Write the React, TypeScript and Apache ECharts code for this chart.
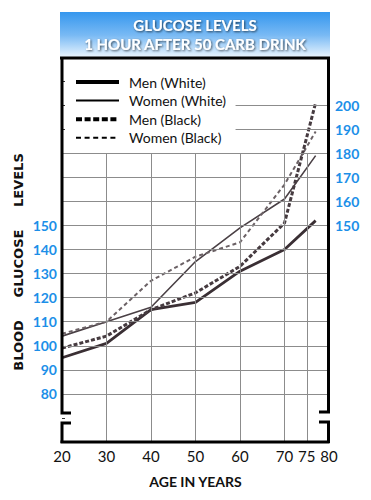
import React, { useEffect, useRef } from "react";
import * as echarts from "echarts";

// ---- data ----
const ages = [20, 30, 40, 50, 60, 70, 77];
const menWhite = [95, 101, 115, 118, 131, 140, 152];
const womenWhite = [104, 110, 116, 135, 149, 161, 179];
const menBlack = [99, 104, 115, 122, 133, 151, 201];
const womenBlack = [105, 110, 127, 137, 143, 167, 189];
const seriesNames = ["Men (White)", "Women (White)", "Men (Black)", "Women (Black)"];

const xTickLabels = [20, 30, 40, 50, 60, 70, 75, 80];
const leftTickLabels = [80, 90, 100, 110, 120, 130, 140, 150];
const rightTickLabels = [150, 160, 170, 180, 190, 200];
const xGridValues = [30, 40, 50, 60, 70, 75];
const yGridFull = [80, 90, 100, 110, 120, 130, 140, 150, 160, 170, 180];
const yGridPartial = [190, 200];

const titleText = "GLUCOSE LEVELS\n1 HOUR AFTER 50 CARB DRINK";
const xName = "AGE IN YEARS";
const yName = "BLOOD     GLUCOSE     LEVELS";

const FONT = "Lato, 'DejaVu Sans', sans-serif";
const BLUE = "#1c8fe8";

function toPairs(vals: number[]) {
  return ages.map((a, i) => [a, vals[i]]);
}

export default function App() {
  const ref = useRef<HTMLDivElement>(null);
  useEffect(() => {
    if (!ref.current) return;
    const chart = echarts.init(ref.current, null, { renderer: "svg" });

    const X_MIN = 20, X_MAX = 80, Y_MIN = 60, Y_MAX = 220;

    const gridLines: any[] = [];
    xGridValues.forEach((x) => {
      gridLines.push([{ coord: [x, Y_MIN] }, { coord: [x, 180] }]);
    });
    yGridFull.forEach((y) => {
      gridLines.push([{ coord: [X_MIN, y] }, { coord: [X_MAX, y] }]);
    });
    yGridPartial.forEach((y) => {
      gridLines.push([{ coord: [59, y] }, { coord: [X_MAX, y] }]);
    });

    const option: any = {
      animation: false,
      backgroundColor: "#ffffff",
      title: {
        text: titleText,
        left: 195,
        top: 15,
        textAlign: "center",
        padding: 0,
        textStyle: {
          color: "#ffffff",
          fontSize: 15,
          fontWeight: "bold",
          fontFamily: FONT,
          lineHeight: 19,
          textShadowColor: "rgba(0,0,0,0.65)",
          textShadowBlur: 2,
          textShadowOffsetX: 1,
          textShadowOffsetY: 1,
        },
        z: 10,
      },
      legend: {
        orient: "vertical",
        left: 74,
        top: 75,
        padding: 0,
        itemWidth: 43,
        itemHeight: 14,
        itemGap: 4.6,
        selectedMode: false,
        itemStyle: { opacity: 0, borderWidth: 0 },
        textStyle: {
          fontSize: 14,
          color: "#111",
          fontFamily: FONT,
          padding: [0, 0, 0, 5],
        },
        data: [
          { name: seriesNames[0], lineStyle: { color: "#000", width: 4, type: "solid" } },
          { name: seriesNames[1], lineStyle: { color: "#000", width: 2, type: "solid" } },
          { name: seriesNames[2], lineStyle: { color: "#000", width: 4, type: [6, 2.6] } },
          { name: seriesNames[3], lineStyle: { color: "#000", width: 2, type: [5, 3.6] } },
        ],
      },
      grid: { left: 62, right: 42, top: 57, bottom: 58 },
      xAxis: {
        type: "value",
        min: X_MIN,
        max: X_MAX,
        interval: 5,
        axisLine: { show: false },
        axisTick: { show: false },
        splitLine: { show: false },
        axisLabel: {
          margin: 6,
          color: "#111",
          fontSize: 15,
          fontFamily: FONT,
          formatter: (v: number) => (xTickLabels.indexOf(v) >= 0 ? String(v) : ""),
        },
        name: xName,
        nameLocation: "middle",
        nameGap: 32,
        nameTextStyle: { color: "#111", fontSize: 14, fontWeight: "bold", fontFamily: FONT },
      },
      yAxis: [
        {
          type: "value",
          min: Y_MIN,
          max: Y_MAX,
          interval: 10,
          position: "left",
          axisLine: { show: false },
          axisTick: { show: true, inside: true, length: 3, lineStyle: { color: "#333" } },
          splitLine: { show: false },
          axisLabel: {
            margin: 5,
            color: BLUE,
            fontSize: 14,
            fontWeight: "bold",
            fontFamily: FONT,
            formatter: (v: number) => (leftTickLabels.indexOf(v) >= 0 ? String(v) : ""),
          },
        },
        {
          type: "value",
          min: Y_MIN,
          max: Y_MAX,
          interval: 10,
          position: "right",
          axisLine: { show: false },
          axisTick: { show: false },
          splitLine: { show: false },
          axisLabel: {
            margin: 6,
            color: BLUE,
            fontSize: 14,
            fontWeight: "bold",
            fontFamily: FONT,
            formatter: (v: number) => (rightTickLabels.indexOf(v) >= 0 ? String(v) : ""),
          },
        },
      ],
      series: [
        {
          name: "grid",
          type: "line",
          data: [],
          silent: true,
          z: 1,
          markLine: {
            silent: true,
            symbol: ["none", "none"],
            label: { show: false },
            lineStyle: { color: "#8c8c8c", width: 1, type: "solid" },
            emphasis: { disabled: true },
            data: gridLines,
          },
        },
        {
          name: seriesNames[0],
          type: "line",
          data: toPairs(menWhite),
          symbol: "none",
          z: 3,
          lineStyle: { color: "#3a2f34", width: 2.8, type: "solid" },
          itemStyle: { color: "#3a2f34" },
        },
        {
          name: seriesNames[1],
          type: "line",
          data: toPairs(womenWhite),
          symbol: "none",
          z: 3,
          lineStyle: { color: "#4a4045", width: 1.6, type: "solid" },
          itemStyle: { color: "#4a4045" },
        },
        {
          name: seriesNames[2],
          type: "line",
          data: toPairs(menBlack),
          symbol: "none",
          z: 4,
          lineStyle: { color: "#463b40", width: 3, type: [4, 2] },
          itemStyle: { color: "#463b40" },
        },
        {
          name: seriesNames[3],
          type: "line",
          data: toPairs(womenBlack),
          symbol: "none",
          z: 3,
          lineStyle: { color: "#6b6165", width: 2, type: [4, 3] },
          itemStyle: { color: "#6b6165" },
        },
      ],
      graphic: [
        {
          type: "rect",
          z: 0,
          silent: true,
          shape: { x: 60, y: 12, width: 270, height: 46 },
          style: {
            fill: new echarts.graphic.LinearGradient(0, 0, 0, 1, [
              { offset: 0, color: "#3597ee" },
              { offset: 0.5, color: "#78b9f4" },
              { offset: 1, color: "#eef7fe" },
            ]),
          },
        },
        {
          type: "text",
          silent: true,
          x: 18,
          y: 262,
          rotation: Math.PI / 2,
          style: {
            text: yName,
            fill: "#111",
            font: "bold 13px 'DejaVu Sans', sans-serif",
            align: "center",
            verticalAlign: "middle",
          },
        },
        {
          type: "line",
          silent: true,
          z: 20,
          shape: { x1: 60, y1: 58, x2: 330, y2: 58 },
          style: { stroke: "#000", lineWidth: 3 },
        },
        {
          type: "line",
          silent: true,
          z: 20,
          shape: { x1: 60.5, y1: 442, x2: 329.5, y2: 442 },
          style: { stroke: "#000", lineWidth: 3 },
        },
        {
          type: "polyline",
          silent: true,
          z: 20,
          shape: { points: [[62, 57], [62, 413], [71, 413]] },
          style: { stroke: "#000", lineWidth: 3, fill: "none" },
        },
        {
          type: "polyline",
          silent: true,
          z: 20,
          shape: { points: [[71, 423], [62, 423], [62, 443]] },
          style: { stroke: "#000", lineWidth: 3, fill: "none" },
        },
        {
          type: "polyline",
          silent: true,
          z: 20,
          shape: { points: [[328.5, 57], [328.5, 412], [319, 412]] },
          style: { stroke: "#000", lineWidth: 3, fill: "none" },
        },
        {
          type: "polyline",
          silent: true,
          z: 20,
          shape: { points: [[319, 422], [328.5, 422], [328.5, 443]] },
          style: { stroke: "#000", lineWidth: 3, fill: "none" },
        },
      ],
    };

    chart.setOption(option);
    return () => {
      chart.dispose();
    };
  }, []);

  return (
    <div
      ref={ref}
      style={{ position: "absolute", left: 0, top: 0, width: 371, height: 500 }}
    />
  );
}
